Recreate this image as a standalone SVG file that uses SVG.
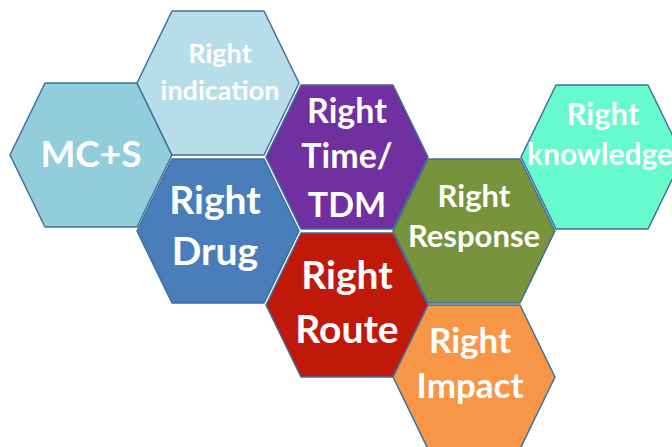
<svg xmlns="http://www.w3.org/2000/svg" width="672" height="447" viewBox="0 0 672 447">
<style>
.hex{stroke:#3F6E9C;stroke-width:1.5;stroke-linejoin:round}
text{font-family:Lato,"Open Sans","Liberation Sans",sans-serif;font-weight:bold;fill:#FFFFFF;text-anchor:middle}
</style>
<defs>
<polygon id="h" points="-81,0 -46,-72 46,-72 81,0 46,72 -46,72"/>
</defs>
<rect width="672" height="447" fill="#FFFFFF"/>
<g id="mcs">
<use href="#h" class="hex" x="91" y="155" fill="#92CDDC"/>
<text x="91" y="167" font-size="37">MC+S</text>
</g>
<g id="indication">
<use href="#h" class="hex" x="218" y="83" fill="#B7DEE8"/>
<text x="220" y="63" font-size="27">Right</text>
<text x="220" y="100" font-size="27">indication</text>
</g>
<g id="drug">
<use href="#h" class="hex" x="218" y="231" fill="#4A7EBB"/>
<text x="215" y="214" font-size="39">Right</text>
<text x="215" y="265" font-size="39">Drug</text>
</g>
<g id="time">
<use href="#h" class="hex" x="347" y="157" fill="#7030A0"/>
<text x="347" y="123" font-size="34">Right</text>
<text x="347" y="168" font-size="34">Time/</text>
<text x="347" y="217" font-size="34">TDM</text>
</g>
<g id="route">
<use href="#h" class="hex" x="347" y="305" fill="#C0190A"/>
<text x="347" y="289" font-size="39">Right</text>
<text x="347" y="343" font-size="39">Route</text>
</g>
<g id="response">
<use href="#h" class="hex" x="474" y="231" fill="#77933C"/>
<text x="474" y="207" font-size="31">Right</text>
<text x="474" y="247" font-size="31">Response</text>
</g>
<g id="knowledge">
<use href="#h" class="hex" x="602" y="157" fill="#66FACC"/>
<text x="603" y="125" font-size="31">Right</text>
<text x="600" y="165" font-size="30">knowledge</text>
</g>
<g id="impact">
<use href="#h" class="hex" x="474" y="377" fill="#F79646"/>
<text x="470" y="353" font-size="35">Right</text>
<text x="470" y="398" font-size="35">Impact</text>
</g>
</svg>
